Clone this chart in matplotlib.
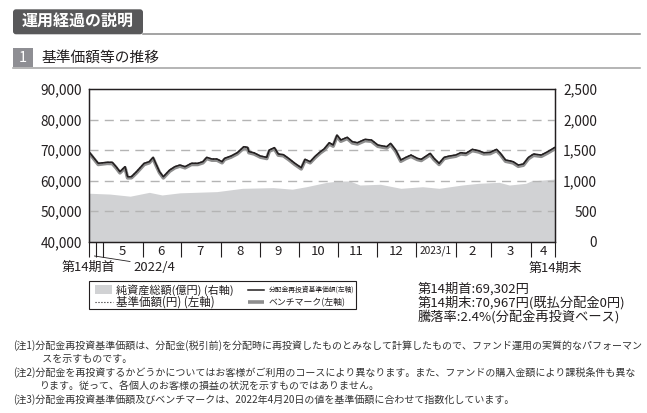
import matplotlib
matplotlib.use("Agg")
import matplotlib.pyplot as plt
import pandas as pd
from matplotlib.patches import FancyBboxPatch, Rectangle

plt.rcParams['font.family'] = ['Noto Sans CJK JP', 'DejaVu Sans']

# ---- data ----
nav_dates = [
    "2022-04-20", "2022-04-27", "2022-05-04", "2022-05-08", "2022-05-11", "2022-05-14",
    "2022-05-18", "2022-05-20", "2022-05-23", "2022-05-27", "2022-06-02", "2022-06-06",
    "2022-06-09", "2022-06-11", "2022-06-14", "2022-06-17", "2022-06-22", "2022-06-26",
    "2022-06-30", "2022-07-04", "2022-07-09", "2022-07-14", "2022-07-18", "2022-07-21",
    "2022-07-25", "2022-07-29", "2022-08-02", "2022-08-04", "2022-08-09", "2022-08-14",
    "2022-08-19", "2022-08-22", "2022-08-23", "2022-08-27", "2022-09-01", "2022-09-06",
    "2022-09-08", "2022-09-12", "2022-09-15", "2022-09-19", "2022-09-23", "2022-09-28",
    "2022-10-03", "2022-10-06", "2022-10-10", "2022-10-14", "2022-10-18", "2022-10-21",
    "2022-10-25", "2022-10-28", "2022-10-31", "2022-11-03", "2022-11-08", "2022-11-12",
    "2022-11-16", "2022-11-22", "2022-11-27", "2022-12-02", "2022-12-09", "2022-12-12",
    "2022-12-16", "2022-12-20", "2022-12-24", "2022-12-28", "2023-01-02", "2023-01-05",
    "2023-01-12", "2023-01-15", "2023-01-19", "2023-01-23", "2023-01-27", "2023-02-01",
    "2023-02-05", "2023-02-09", "2023-02-14", "2023-02-19", "2023-02-23", "2023-02-28",
    "2023-03-05", "2023-03-08", "2023-03-12", "2023-03-16", "2023-03-18", "2023-03-22",
    "2023-03-26", "2023-03-30", "2023-04-03", "2023-04-09", "2023-04-14", "2023-04-20",
]
nav = [
    69302, 65670, 66000, 66000, 64560, 62920,
    64560, 61280, 61280, 62920, 65670, 66200,
    67630, 65670, 62920, 61280, 63480, 64560,
    65110, 64560, 65670, 65670, 66200, 67630,
    67080, 67080, 66200, 67300, 68060, 69150,
    71110, 70900, 69500, 69100, 68060, 67630,
    70030, 70800, 68720, 68500, 67300, 65670,
    64230, 66980, 66200, 68000, 69470, 70400,
    72420, 71660, 74940, 73300, 74190, 72750,
    72420, 73530, 73300, 71660, 71110, 72200,
    70030, 66760, 67630, 68390, 67300, 66980,
    68940, 67300, 65670, 67630, 68060, 68390,
    69150, 68940, 70250, 69800, 69150, 69260,
    70250, 68940, 66760, 66430, 66200, 65110,
    65450, 67630, 68720, 68390, 69470, 70967,
]
bench = [
    69000, 65300, 65650, 65600, 64200, 62550,
    64200, 60900, 60950, 62550, 65300, 65850,
    67250, 65300, 62600, 60900, 63100, 64200,
    64750, 64200, 65300, 65300, 65850, 67250,
    66700, 66700, 65850, 66950, 67700, 68800,
    70700, 70500, 69150, 68750, 67700, 67250,
    69650, 70400, 68350, 68150, 66950, 65300,
    63850, 66600, 65850, 67600, 69100, 70000,
    72000, 71300, 74500, 72900, 73800, 72350,
    72000, 73100, 72900, 71250, 70700, 71800,
    69600, 66350, 67250, 67950, 66900, 66600,
    68500, 66900, 65300, 67250, 67650, 68000,
    68750, 68550, 69850, 69400, 68750, 68850,
    69850, 68550, 66350, 66000, 65800, 64700,
    65050, 67200, 68300, 67950, 69050, 70550,
]
asset_dates = [
    "2022-04-20", "2022-05-06", "2022-05-22", "2022-06-06", "2022-06-16", "2022-06-30",
    "2022-07-29", "2022-08-18", "2022-09-11", "2022-09-26", "2022-10-07", "2022-10-23",
    "2022-11-02", "2022-11-10", "2022-11-18", "2022-12-04", "2022-12-20", "2023-01-06",
    "2023-01-19", "2023-02-06", "2023-02-19", "2023-03-07", "2023-03-15", "2023-03-28",
    "2023-04-01", "2023-04-20",
]
assets = [
    793, 780, 745, 808, 765, 800,
    820, 874, 885, 860, 900, 972,
    994, 994, 928, 940, 874, 900,
    874, 928, 956, 972, 928, 956,
    994, 1026,
]

month_starts = ["2022-04-25", "2022-05-01", "2022-06-01", "2022-07-01", "2022-08-01",
                "2022-09-01", "2022-10-01", "2022-11-01", "2022-12-01", "2023-01-01",
                "2023-02-01", "2023-03-01", "2023-04-01"]
month_mids = ["2022-05-16", "2022-06-15", "2022-07-16", "2022-08-16", "2022-09-15",
              "2022-10-16", "2022-11-15", "2022-12-16", "2023-01-16", "2023-02-14",
              "2023-03-16", "2023-04-11"]
month_labels = ["5", "6", "7", "8", "9", "10", "11", "12", "2023/1", "2", "3", "4"]

left_ticks = [40000, 50000, 60000, 70000, 80000, 90000]
right_ticks = [0, 500, 1000, 1500, 2000, 2500]
grid_vals = [50000, 60000, 70000, 80000]

notes = [
    "(注1)分配金再投資基準価額は、分配金(税引前)を分配時に再投資したものとみなして計算したもので、ファンド運用の実質的なパフォーマン",
    " スを示すものです。",
    "(注2)分配金を再投資するかどうかについてはお客様がご利用のコースにより異なります。また、ファンドの購入金額により課税条件も異な",
    "ります。従って、各個人のお客様の損益の状況を示すものではありません。",
    "(注3)分配金再投資基準価額及びベンチマークは、2022年4月20日の値を基準価額に合わせて指数化しています。",
]

nav_x = pd.to_datetime(nav_dates)
asset_x = pd.to_datetime(asset_dates)
start, end = nav_x[0], nav_x[-1]

W, H = 647, 413
fig = plt.figure(figsize=(W / 100, H / 100), dpi=100)

# chart axes: left = NAV (yen), right = net assets (100M yen)
ax = fig.add_axes([89.3 / W, 1 - 241.7 / H, (555.3 - 89.3) / W, (241.7 - 89.0) / H])
ax2 = ax.twinx()
ax.set_zorder(ax2.get_zorder() + 1)
ax.patch.set_visible(False)

ax2.fill_between(asset_x, assets, 0, color="#d1d2d4", lw=0)
ax2.set_ylim(0, 2500)
ax2.set_yticks(right_ticks)
ax2.set_yticklabels([f"{v:,}" for v in right_ticks])
ax2.tick_params(axis="y", length=0, pad=30, labelsize=9.8, labelcolor="#231f20")
for t in ax2.yaxis.get_major_ticks():
    t.label2.set_horizontalalignment("right")

for g in grid_vals:
    ax.axhline(g, color="#b4b4b4", lw=1.0, dashes=(6.5, 4.5), zorder=1)
ax.plot(nav_x, bench, color="#8e8e8e", lw=2.6, solid_capstyle="butt", zorder=2)
ax.plot(nav_x, nav, color="#231f20", lw=0.8, ls=":", zorder=3)
ax.plot(nav_x, nav, color="#231f20", lw=1.1, zorder=4)

ax.set_xlim(start, end)
ax.set_ylim(40000, 90000)
ax.set_yticks(left_ticks)
ax.set_yticklabels([f"{v:,}" for v in left_ticks])
ax.tick_params(axis="y", length=0, pad=5.5, labelsize=9.8, labelcolor="#231f20")

ax.set_xticks([start] + list(pd.to_datetime(month_starts)) + [end])
ax.set_xticklabels([])
ax.tick_params(axis="x", which="major", length=11, width=0.8, color="#231f20")
ax.set_xticks(pd.to_datetime(month_mids), minor=True)
ax.set_xticklabels(month_labels, minor=True)
ax.tick_params(axis="x", which="minor", length=0, pad=2.5, labelsize=9.5, labelcolor="#231f20")
for lab in ax.get_xticklabels(minor=True):
    if lab.get_text() == "2023/1":
        lab.set_fontsize(7.3)

for a in (ax, ax2):
    for s in a.spines.values():
        s.set_color("#231f20")
        s.set_linewidth(0.9)

# overlay in pixel coordinates for headings, legend and notes
ov = fig.add_axes([0, 0, 1, 1])
ov.set_xlim(0, W)
ov.set_ylim(H, 0)
ov.axis("off")

ov.add_patch(FancyBboxPatch((13, 9.3), 130, 25, boxstyle="round,pad=0,rounding_size=3",
                            fc="#58585a", ec="none"))
ov.text(22, 21.8, "運用経過の説明", color="white", fontsize=11.5, fontweight="bold", va="center")
ov.plot([143, 640], [33.6, 33.6], color="#8a8a8a", lw=1.1)

ov.add_patch(Rectangle((13, 48), 20, 19, fc="#8e8e93", ec="none"))
ov.text(23, 57.8, "1", color="white", fontsize=10.5, ha="center", va="center")
ov.text(42, 58, "基準価額等の推移", color="#231f20", fontsize=10.6, va="center")
ov.plot([13, 640], [67.7, 67.7], color="#a0a0a0", lw=1.1)

# labels under the date axis
ov.text(62, 267.5, "第14期首", fontsize=9.4, color="#231f20", va="center")
ov.text(133, 267.5, "2022/4", fontsize=9.4, color="#231f20", va="center")
ov.text(555, 268.3, "第14期末", fontsize=9.4, color="#231f20", va="center", ha="center")
ov.plot([94.5, 130], [256, 261.5], color="#231f20", lw=0.6)

# legend
ov.add_patch(Rectangle((89.3, 280.7), 266.7, 28.6, fc="none", ec="#231f20", lw=0.8))
ov.add_patch(Rectangle((95, 285.3), 17.3, 9, fc="#d1d2d4", ec="none"))
ov.text(116, 290, "純資産総額(億円) (右軸)", fontsize=8.0, color="#231f20", va="center")
ov.plot([95, 112.7], [302.3, 302.3], color="#231f20", lw=0.8, ls=":")
ov.text(116, 302.5, "基準価額(円) (左軸)", fontsize=8.3, color="#231f20", va="center")
ov.plot([248.3, 264.3], [290, 290], color="#231f20", lw=1.1)
ov.text(268.3, 290, "分配金再投資基準価額(左軸)", fontsize=4.9, color="#231f20", va="center")
ov.plot([248.3, 264.3], [302.3, 302.3], color="#8e8e8e", lw=2.6, solid_capstyle="butt")
ov.text(268.3, 302.5, "ベンチマーク(左軸)", fontsize=6.4, color="#231f20", va="center")

# period summary
ov.text(418, 288.5, "第14期首:69,302円", fontsize=9.5, color="#231f20", va="center")
ov.text(418, 302.5, "第14期末:70,967円(既払分配金0円)", fontsize=9.5, color="#231f20", va="center")
ov.text(418, 316.5, "騰落率:2.4%(分配金再投資ベース)", fontsize=9.5, color="#231f20", va="center")

# notes
note_y = [345.7, 359.3, 372.7, 386.0, 399.3]
note_x = [12.7, 40, 12.7, 40, 12.7]
for x, y, txt in zip(note_x, note_y, notes):
    ov.text(x, y, txt, fontsize=7.2, color="#333333", va="center")

fig.savefig("out.png", dpi=100)
